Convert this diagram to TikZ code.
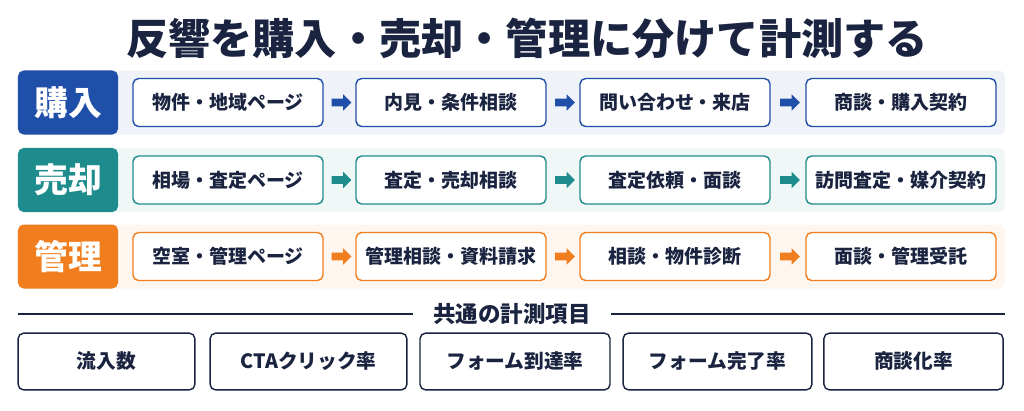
\documentclass[tikz,border=0pt]{standalone}
\usepackage{fontspec}
\setmainfont{Noto Sans CJK JP}
\usetikzlibrary{shapes.arrows,calc}
\definecolor{buyc}{HTML}{1F4FA8}
\definecolor{sellc}{HTML}{1E8C8C}
\definecolor{mngc}{HTML}{F07E1E}
\definecolor{inkc}{HTML}{1A2440}
\tikzset{
  lbl/.style={rounded corners=4pt, text=white, font=\fontsize{24}{26}\selectfont\bfseries, minimum width=2.5cm, minimum height=1.6cm},
  stagebox/.style={draw, line width=1pt, rounded corners=4pt, fill=white, text=inkc, font=\fontsize{13.5}{15}\selectfont\bfseries, minimum width=4.75cm, minimum height=1.2cm},
  blk/.style={single arrow, single arrow head extend=3pt, inner xsep=0pt, inner ysep=2.6pt, minimum height=14pt},
  metric/.style={draw=inkc, line width=1pt, rounded corners=4pt, fill=white, text=inkc, font=\fontsize{14}{16}\selectfont\bfseries, minimum height=1.42cm},
}
\begin{document}
\begin{tikzpicture}[x=0.025cm, y=-0.025cm]
\useasboundingbox (0,0) rectangle (1024,410);
\node (title) at (527,38) {\fontsize{30}{32}\selectfont\bfseries\color{inkc}反響を購入・売却・管理に分けて計測する};

% rows
\foreach \r/\y/\c/\name/\a/\b/\cc/\d in {
  1/102.5/buyc/購入/物件・地域ページ/内見・条件相談/問い合わせ・来店/商談・購入契約,
  2/180/sellc/売却/相場・査定ページ/査定・売却相談/査定依頼・面談/訪問査定・媒介契約,
  3/256.5/mngc/管理/空室・管理ページ/管理相談・資料請求/相談・物件診断/面談・管理受託}{
  \fill[\c!7, rounded corners=4pt] (110,\y-32) rectangle (1005,\y+32);
  \node[lbl, fill=\c] (lab\r) at (68,\y) {\name};
  \node[stagebox, draw=\c] (s\r1) at (228,\y) {\a};
  \node[stagebox, draw=\c] (s\r2) at (451,\y) {\b};
  \node[stagebox, draw=\c] (s\r3) at (675,\y) {\cc};
  \node[stagebox, draw=\c] (s\r4) at (901,\y) {\d};
  \foreach \p/\q in {1/2,2/3,3/4}
    \node[blk, fill=\c] at ($(s\r\p.east)!0.5!(s\r\q.west)$) {};
}

% common metrics
\node[inner xsep=14pt] (common) at (512,314) {\fontsize{16}{18}\selectfont\bfseries\color{inkc}共通の計測項目};
\coordinate (cl) at (18,314);
\coordinate (cr) at (1005,314);
\draw[inkc, line width=1pt] (cl) -- (common.west);
\draw[inkc, line width=1pt] (common.east) -- (cr);
\node[metric, minimum width=4.42cm] (m1) at (106.5,361.5) {流入数};
\node[metric, minimum width=4.92cm] (m2) at (308.5,361.5) {CTAクリック率};
\node[metric, minimum width=4.75cm] (m3) at (515,361.5) {フォーム到達率};
\node[metric, minimum width=4.72cm] (m4) at (717.5,361.5) {フォーム完了率};
\node[metric, minimum width=4.48cm] (m5) at (913.5,361.5) {商談化率};
\end{tikzpicture}
\end{document}
